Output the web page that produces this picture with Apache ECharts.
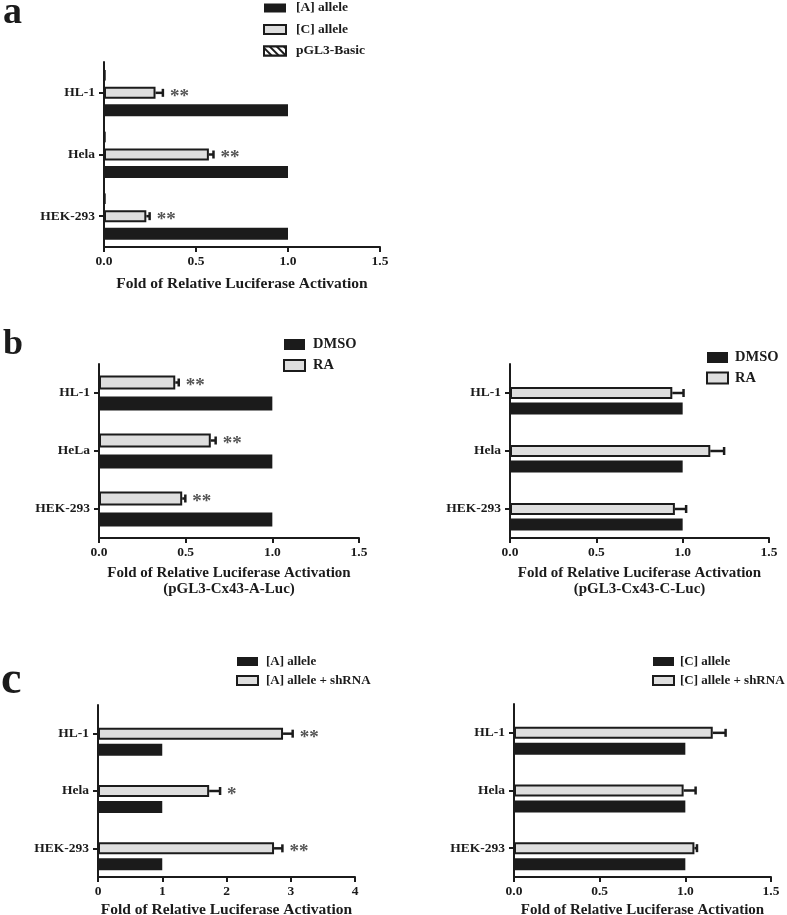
<!DOCTYPE html>
<html><head><meta charset="utf-8">
<script src="https://cdn.jsdelivr.net/npm/echarts@6/dist/echarts.min.js"></script>
<style>html,body{margin:0;padding:0;background:#fff}#c{width:787px;height:915px}</style>
</head><body><div id="c"></div>
<script>
// ---------- data ----------
const cellLines = ['HL-1', 'Hela', 'HEK-293'];
const cellLinesB = ['HL-1', 'HeLa', 'HEK-293'];

// panel a
const aAlleleA = [1.0, 1.0, 1.0];
const aAlleleC = [0.28, 0.57, 0.23];
const aAlleleCErr = [0.04, 0.025, 0.018];
const aBasic = [0.008, 0.008, 0.008];
const aStars = ['**', '**', '**'];

// panel b left (pGL3-Cx43-A-Luc)
const bLeftDMSO = [1.0, 1.0, 1.0];
const bLeftRA = [0.44, 0.645, 0.48];
const bLeftRAErr = [0.02, 0.028, 0.018];
const bLeftStars = ['**', '**', '**'];

// panel b right (pGL3-Cx43-C-Luc)
const bRightDMSO = [1.0, 1.0, 1.0];
const bRightRA = [0.94, 1.16, 0.955];
const bRightRAErr = [0.065, 0.08, 0.065];
const bRightStars = ['', '', ''];

// panel c left
const cLeftA = [1.0, 1.0, 1.0];
const cLeftShRNA = [2.88, 1.73, 2.74];
const cLeftErr = [0.15, 0.17, 0.13];
const cLeftStars = ['**', '*', '**'];

// panel c right
const cRightC = [1.0, 1.0, 1.0];
const cRightShRNA = [1.16, 0.99, 1.053];
const cRightErr = [0.075, 0.07, 0.015];
const cRightStars = ['', '', ''];

const spacer = [0, 0, 0];

const xTickLabels15 = ['0.0', '0.5', '1.0', '1.5'];
const xTickLabels4 = ['0', '1', '2', '3', '4'];

// ---------- style ----------
const FONT = '"Liberation Serif","Times New Roman",serif';
const INK = '#1b1b1b';
const GRAY = '#dedede';

const grids = [
  { left: 104, top: 62, width: 276, height: 185 },
  { left: 99, top: 364, width: 260, height: 174 },
  { left: 510, top: 364, width: 259, height: 174 },
  { left: 98, top: 705, width: 257, height: 172 },
  { left: 514, top: 704, width: 257, height: 173 }
];
// bar layout per panel: slots count, bar width, gap in px
const layouts = [
  { n: 3, w: 12, gap: 5.5 },
  { n: 2, w: 14, gap: 7 },
  { n: 3, w: 12, gap: 3.5 },
  { n: 3, w: 12, gap: 4 },
  { n: 3, w: 12, gap: 4 }
];

const HATCH = { symbol: 'rect', symbolSize: 1, dashArrayX: [1, 0], dashArrayY: [2, 3], rotation: Math.PI / 4, color: INK, backgroundColor: '#fff' };
const STY = {
  black: { color: INK, borderWidth: 0 },
  gray: { color: GRAY, borderColor: INK, borderWidth: 2 },
  hatch: { color: '#fff', borderColor: INK, borderWidth: 2, decal: HATCH }
};

function xAxis(gi, max, interval, labels, name, nameGap, nameSize) {
  return {
    gridIndex: gi, type: 'value', min: 0, max: max, interval: interval,
    splitLine: { show: false },
    axisLine: { show: true, lineStyle: { color: INK, width: 2 } },
    axisTick: { show: true, length: 5, lineStyle: { color: INK, width: 2 } },
    axisLabel: {
      margin: 8, fontSize: 13.5, fontWeight: 'bold', fontFamily: FONT, color: INK,
      formatter: function (v) { return labels[Math.round(v / interval)]; }
    },
    name: name, nameLocation: 'middle', nameGap: nameGap,
    nameTextStyle: { fontSize: nameSize, fontWeight: 'bold', fontFamily: FONT, color: INK, lineHeight: 16, verticalAlign: 'top' }
  };
}
function yAxis(gi, cats) {
  return {
    gridIndex: gi, type: 'category', data: cats, inverse: true,
    axisLine: { show: true, lineStyle: { color: INK, width: 2 } },
    axisTick: { show: true, alignWithLabel: true, length: 5, lineStyle: { color: INK, width: 2 } },
    axisLabel: { margin: 9, fontSize: 13.5, fontWeight: 'bold', fontFamily: FONT, color: INK }
  };
}

function barSeries(gi, name, data, kind) {
  const L = layouts[gi];
  const s = {
    type: 'bar', name: name, data: data, xAxisIndex: gi, yAxisIndex: gi,
    barWidth: L.w, barGap: (L.gap / L.w * 100) + '%', barCategoryGap: '10%',
    silent: true
  };
  if (STY[kind]) s.itemStyle = Object.assign({}, STY[kind]);
  else s.itemStyle = { color: 'rgba(0,0,0,0)' };
  if (kind === 'hatch') s.itemStyle.borderWidth = 1.5;
  return s;
}

function errSeries(gi, slot, vals, errs, stars) {
  const L = layouts[gi];
  const offset = (slot - (L.n - 1) / 2) * (L.w + L.gap);
  return {
    type: 'custom', xAxisIndex: gi, yAxisIndex: gi, z: 5, silent: true,
    data: vals.map(function (v, i) { return [v, i, errs[i]]; }),
    encode: { x: 0, y: 1 },
    renderItem: function (params, api) {
      const v = api.value(0), c = api.value(1), e = api.value(2);
      const p0 = api.coord([v, c]);
      const p1 = api.coord([v + e, c]);
      const y = p0[1] + offset;
      const cap = 8;
      const children = [
        { type: 'line', shape: { x1: p0[0], y1: y, x2: p1[0], y2: y }, style: { stroke: INK, lineWidth: 2.5 } },
        { type: 'line', shape: { x1: p1[0], y1: y - cap / 2, x2: p1[0], y2: y + cap / 2 }, style: { stroke: INK, lineWidth: 2.5 } }
      ];
      const st = stars[params.dataIndex];
      if (st) {
        children.push({ type: 'text', style: { x: p1[0] + 7, y: y + 4, text: st, font: 'bold 19px ' + FONT, fill: '#555', verticalAlign: 'middle', align: 'left' } });
      }
      return { type: 'group', children: children };
    }
  };
}

const legendText = function (size, pad) { return { fontSize: size, fontWeight: 'bold', fontFamily: FONT, color: INK, padding: [0, 0, 0, pad] }; };
function legItem(name, kind) { return { name: name, itemStyle: Object.assign({}, STY[kind]) }; }

const option = {
  animation: false,
  backgroundColor: '#fff',
  title: [
    { text: 'a', left: 3, top: -6, padding: 0, textStyle: { fontSize: 38, fontWeight: 'bold', fontFamily: FONT, color: INK } },
    { text: 'b', left: 3, top: 327, padding: 0, textStyle: { fontSize: 36, fontWeight: 'bold', fontFamily: FONT, color: INK } },
    { text: 'c', left: 1, top: 658, padding: 0, textStyle: { fontSize: 46, fontWeight: 'bold', fontFamily: FONT, color: INK } }
  ],
  grid: grids.map(function (g) { return Object.assign({ outerBoundsMode: 'none', containLabel: false }, g); }),
  xAxis: [
    xAxis(0, 1.5, 0.5, xTickLabels15, 'Fold of Relative Luciferase Activation', 29, 15.5),
    xAxis(1, 1.5, 0.5, xTickLabels15, 'Fold of Relative Luciferase Activation\n(pGL3-Cx43-A-Luc)', 27, 15),
    xAxis(2, 1.5, 0.5, xTickLabels15, 'Fold of Relative Luciferase Activation\n(pGL3-Cx43-C-Luc)', 27, 15),
    xAxis(3, 4, 1, xTickLabels4, 'Fold of Relative Luciferase Activation', 25, 15.5),
    xAxis(4, 1.5, 0.5, xTickLabels15, 'Fold of Relative Luciferase Activation', 25, 15)
  ],
  yAxis: [
    yAxis(0, cellLines), yAxis(1, cellLinesB), yAxis(2, cellLines), yAxis(3, cellLines), yAxis(4, cellLines)
  ],
  legend: [
    { data: [legItem('[A] allele', 'black'), legItem('[C] allele', 'gray'), legItem('pGL3-Basic', 'hatch')], left: 263, top: 1, padding: 0, orient: 'vertical', icon: 'rect', itemWidth: 22, itemHeight: 9, itemGap: 7.5, textStyle: legendText(13.5, 5) },
    { data: [legItem('DMSO', 'black'), legItem('RA', 'gray')], left: 283, top: 337, padding: 0, orient: 'vertical', icon: 'rect', itemWidth: 21, itemHeight: 11, itemGap: 6, textStyle: legendText(14.5, 3) },
    { data: [legItem('DMSO', 'black'), legItem('RA', 'gray')], left: 706, top: 350, padding: 0, orient: 'vertical', icon: 'rect', itemWidth: 21, itemHeight: 11, itemGap: 5.5, textStyle: legendText(14.5, 2) },
    { data: [legItem('[A] allele', 'black'), legItem('[A] allele + shRNA', 'gray')], left: 236, top: 655, padding: 0, orient: 'vertical', icon: 'rect', itemWidth: 21, itemHeight: 9, itemGap: 6, textStyle: legendText(13, 3) },
    { data: [legItem('[C] allele', 'black'), legItem('[C] allele + shRNA', 'gray')], left: 652, top: 655, padding: 0, orient: 'vertical', icon: 'rect', itemWidth: 21, itemHeight: 9, itemGap: 6, textStyle: legendText(13, 1) }
  ],
  series: [
    // a
    barSeries(0, 'pGL3-Basic', aBasic, 'hatch'),
    barSeries(0, '[C] allele', aAlleleC, 'gray'),
    barSeries(0, '[A] allele', aAlleleA, 'black'),
    errSeries(0, 1, aAlleleC, aAlleleCErr, aStars),
    // b left
    barSeries(1, 'RA', bLeftRA, 'gray'),
    barSeries(1, 'DMSO', bLeftDMSO, 'black'),
    errSeries(1, 0, bLeftRA, bLeftRAErr, bLeftStars),
    // b right
    barSeries(2, 'spacer-b', spacer, 'none'),
    barSeries(2, 'RA', bRightRA, 'gray'),
    barSeries(2, 'DMSO', bRightDMSO, 'black'),
    errSeries(2, 1, bRightRA, bRightRAErr, bRightStars),
    // c left
    barSeries(3, 'spacer-cl', spacer, 'none'),
    barSeries(3, '[A] allele + shRNA', cLeftShRNA, 'gray'),
    barSeries(3, '[A] allele', cLeftA, 'black'),
    errSeries(3, 1, cLeftShRNA, cLeftErr, cLeftStars),
    // c right
    barSeries(4, 'spacer-cr', spacer, 'none'),
    barSeries(4, '[C] allele + shRNA', cRightShRNA, 'gray'),
    barSeries(4, '[C] allele', cRightC, 'black'),
    errSeries(4, 1, cRightShRNA, cRightErr, cRightStars)
  ]
};

const chart = echarts.init(document.getElementById('c'), null, { renderer: 'canvas' });
chart.setOption(option);
</script>
</body></html>
